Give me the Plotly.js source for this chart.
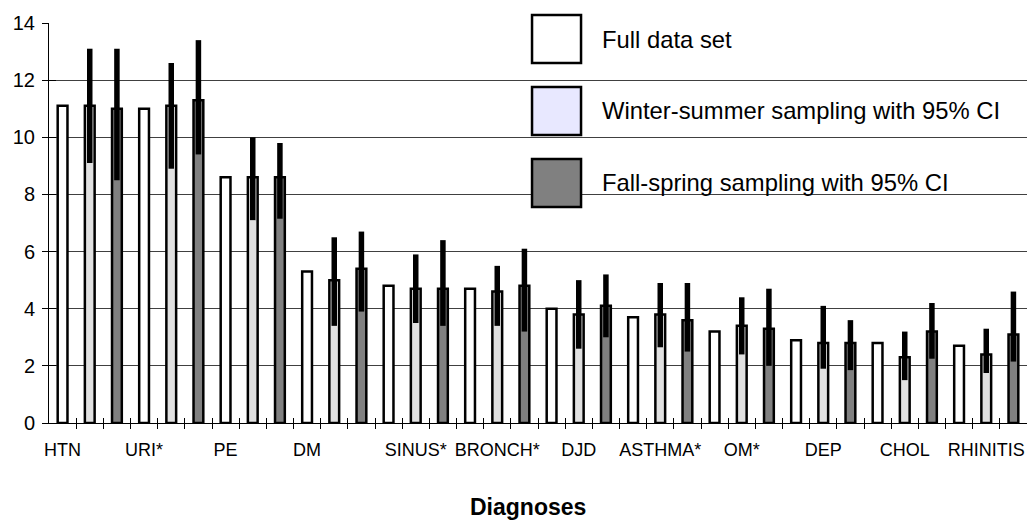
<!DOCTYPE html>
<html>
<head>
<meta charset="utf-8">
<script src="https://cdn.plot.ly/plotly-3.0.1.min.js"></script>
<style>html,body{margin:0;padding:0;background:#fff;}#chart{width:1027px;height:521px;}</style>
</head>
<body>
<div id="chart"></div>
<script>
// ---- data ----
var diagnoses = ["HTN","URI*","PE","DM","SINUS*","BRONCH*","DJD","ASTHMA*","OM*","DEP","CHOL","RHINITIS"];
var fullData   = [11.1, 11.0, 8.6, 5.3, 4.8, 4.7, 4.0, 3.7, 3.2, 2.9, 2.8, 2.7];
var winterSummer     = [11.1, 11.1, 8.6, 5.0, 4.7, 4.6, 3.8, 3.8, 3.4, 2.8, 2.3, 2.4];
var winterSummerHigh = [13.1, 12.6, 10.0, 6.5, 5.9, 5.5, 5.0, 4.9, 4.4, 4.1, 3.2, 3.3];
var winterSummerLow  = [9.1, 8.9, 7.1, 3.4, 3.5, 3.4, 2.6, 2.65, 2.4, 1.9, 1.5, 1.75];
var fallSpring       = [11.0, 11.3, 8.6, 5.4, 4.7, 4.8, 4.1, 3.6, 3.3, 2.8, 3.2, 3.1];
var fallSpringHigh   = [13.1, 13.4, 9.8, 6.7, 6.4, 6.1, 5.2, 4.9, 4.7, 3.6, 4.2, 4.6];
var fallSpringLow    = [8.5, 9.4, 7.15, 3.9, 3.4, 3.2, 3.0, 2.5, 2.0, 1.85, 2.25, 2.15];
var seriesNames = ["Full data set", "Winter-summer sampling with 95% CI", "Fall-spring sampling with 95% CI"];
var yTicks = [0, 2, 4, 6, 8, 10, 12, 14];
var xTitle = "Diagnoses";

// ---- layout helpers (positions) ----
var perGroup = 3;
var nCat = diagnoses.length * perGroup;
function slot(g, k) { return g * perGroup + k; }
var xFull = diagnoses.map(function(_, g){ return slot(g, 0); });
var xWS   = diagnoses.map(function(_, g){ return slot(g, 1); });
var xFS   = diagnoses.map(function(_, g){ return slot(g, 2); });
// label positions as placed in the original chart
var labelPos = diagnoses.map(function(_, g){ return g < 4 ? slot(g, 0) : slot(g, 1); });
var boundaries = [];
for (var i = 0; i < nCat - 1; i++) boundaries.push(i + 0.5);

var barW = 0.36;
var lineStyle = {color: '#000', width: 2.5};
var colFull = '#ffffff', colWS = '#e0e0e0', colFS = '#808080';

function plus(v, hi){ return v.map(function(x, i){ return +(hi[i] - x).toFixed(3); }); }
function minus(v, lo){ return v.map(function(x, i){ return +(x - lo[i]).toFixed(3); }); }

var traces = [
  {type: 'bar', name: seriesNames[0], x: xFull, y: fullData, width: barW,
   marker: {color: colFull, line: lineStyle}, showlegend: false},
  {type: 'bar', name: seriesNames[1], x: xWS, y: winterSummer, width: barW,
   marker: {color: colWS, line: lineStyle}, showlegend: false,
   error_y: {type: 'data', symmetric: false, array: plus(winterSummer, winterSummerHigh),
             arrayminus: minus(winterSummer, winterSummerLow), color: '#000', thickness: 5.5, width: 0}},
  {type: 'bar', name: seriesNames[2], x: xFS, y: fallSpring, width: barW,
   marker: {color: colFS, line: lineStyle}, showlegend: false,
   error_y: {type: 'data', symmetric: false, array: plus(fallSpring, fallSpringHigh),
             arrayminus: minus(fallSpring, fallSpringLow), color: '#000', thickness: 5.5, width: 0}},
  {type: 'scatter', x: [0], y: [0], xaxis: 'x2', mode: 'none', hoverinfo: 'skip', showlegend: false},
  {type: 'scatter', x: [0], y: [0], xaxis: 'x3', mode: 'none', hoverinfo: 'skip', showlegend: false},
  {type: 'scatter', x: [0], y: [0], yaxis: 'y2', mode: 'none', hoverinfo: 'skip', showlegend: false}
];

var FONT = 'Liberation Sans, Arial, sans-serif';
var xr = [-0.5, nCat - 0.5];

// manual legend (large swatches as in the original)
var legFill = [colFull, '#e8e8ff', colFS];
var legY = [[0.90, 1.02], [0.72, 0.84], [0.54, 0.66]];
var shapes = [], annotations = [];
for (var s = 0; s < 3; s++) {
  shapes.push({type: 'rect', xref: 'paper', yref: 'paper', x0: 0.4939, x1: 0.5440,
               y0: legY[s][0], y1: legY[s][1], fillcolor: legFill[s],
               line: {color: '#000', width: 2.5}, layer: 'above'});
  annotations.push({xref: 'paper', yref: 'paper', x: 0.5634, y: (legY[s][0] + legY[s][1]) / 2,
                    xanchor: 'left', yanchor: 'middle', showarrow: false, text: seriesNames[s],
                    font: {family: FONT, size: 23.8, color: '#000'}});
}
annotations.push({xref: 'paper', yref: 'paper', x: 0.49, y: -0.21, xanchor: 'center', yanchor: 'middle',
                  showarrow: false, text: '<b>' + xTitle + '</b>',
                  font: {family: FONT, size: 23, color: '#000'}});

var layout = {
  width: 1027, height: 521,
  margin: {l: 49, r: 0, t: 23, b: 98},
  paper_bgcolor: '#fff', plot_bgcolor: 'rgba(0,0,0,0)',
  barmode: 'overlay',
  showlegend: false,
  font: {family: FONT, color: '#000'},
  xaxis: {range: xr, tickmode: 'array', tickvals: boundaries, showticklabels: false,
          ticks: 'outside', ticklen: 5, tickwidth: 1, tickcolor: '#000',
          showline: true, linecolor: '#000', linewidth: 1, showgrid: false, zeroline: false, fixedrange: true},
  xaxis2: {overlaying: 'x', anchor: 'y', side: 'bottom', range: xr, tickmode: 'array', tickvals: boundaries,
           showticklabels: false, ticks: 'inside', ticklen: 5, tickwidth: 1, tickcolor: '#000',
           showline: false, showgrid: false, zeroline: false},
  xaxis3: {overlaying: 'x', anchor: 'y', side: 'bottom', range: xr, tickmode: 'array', tickvals: labelPos,
           ticktext: diagnoses, ticks: '', showline: false, showgrid: false, zeroline: false,
           tickfont: {family: FONT, size: 18, color: '#000'}, ticklabelstandoff: 14},
  yaxis: {range: [0, 14], tickmode: 'array', tickvals: yTicks, ticks: 'outside', ticklen: 6,
          tickwidth: 1, tickcolor: '#000', showline: true, linecolor: '#000', linewidth: 1,
          showgrid: true, gridcolor: '#404040', gridwidth: 1, zeroline: false,
          tickfont: {family: FONT, size: 20, color: '#000'}, ticklabelstandoff: 3, fixedrange: true},
  yaxis2: {overlaying: 'y', anchor: 'x', side: 'left', range: [0, 14], tickmode: 'array', tickvals: yTicks,
           ticks: 'inside', ticklen: 7, tickwidth: 1, tickcolor: '#000', showticklabels: false,
           showline: false, showgrid: false, zeroline: false},
  shapes: shapes,
  annotations: annotations
};

Plotly.newPlot('chart', traces, layout, {staticPlot: true, displayModeBar: false});
</script>
</body>
</html>
